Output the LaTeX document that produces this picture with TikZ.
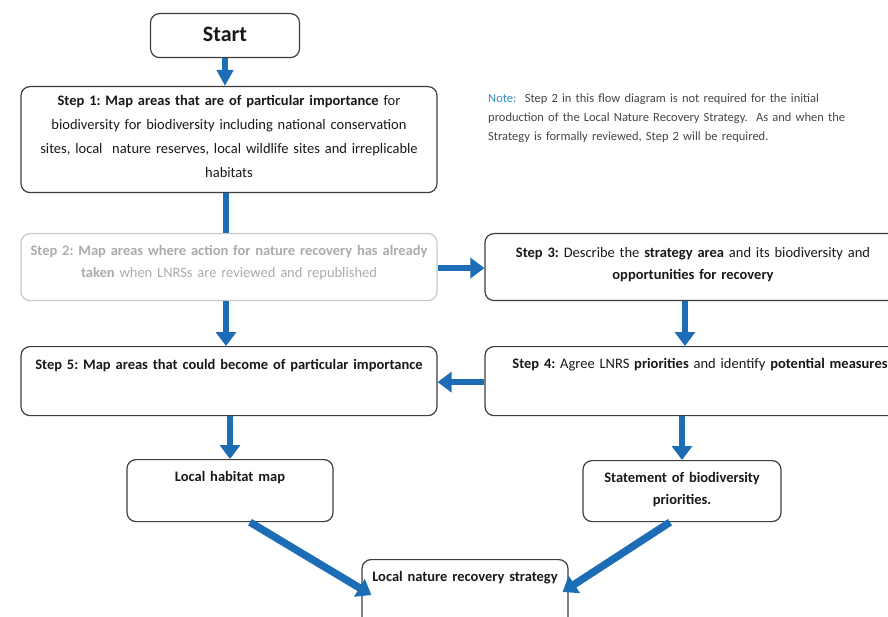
\documentclass[tikz,border=0pt]{standalone}
\usepackage{fontspec}
\setmainfont{Carlito}
\usepackage{xcolor}
\usepackage{tikz}
\usetikzlibrary{arrows.meta}
\frenchspacing
\definecolor{flowblue}{RGB}{28,108,182}
\definecolor{boxgray}{RGB}{62,62,62}
\definecolor{fadegray}{RGB}{200,200,200}
\definecolor{fadetext}{RGB}{172,172,172}
\definecolor{notecol}{RGB}{52,145,190}
\definecolor{notetext}{RGB}{70,70,70}
\tikzstyle{block} = [rectangle, draw=boxgray, line width=1.2pt, rounded corners=9pt, fill=white, anchor=north, align=center, inner xsep=4pt, inner ysep=0pt, text=black!90, font=\fontsize{14.5}{22}\selectfont]
\tikzstyle{faded} = [block, draw=fadegray, text=fadetext]
\tikzstyle{flow} = [draw=flowblue, line width=6.5pt, -{Triangle[width=20pt,length=14pt]}]
\tikzstyle{plain} = [draw=flowblue, line width=6.5pt]

\begin{document}
\begin{tikzpicture}[x=1pt,y=-1pt]
\useasboundingbox (0,0) rectangle (888,617);
\clip (0,0) rectangle (888,617);
\fill [white] (0,0) rectangle (888,617);

\node [block, text width=141pt, text height=28pt, text depth=16pt, font=\fontsize{22}{26}\selectfont\bfseries] (start) at (225,13) {Start};
\node [block, text width=408pt, text height=19pt, text depth=87pt, font=\fontsize{14.5}{24}\selectfont] (step1) at (229,86) {\textbf{Step 1: Map areas that are of particular importance} for\\ biodiversity for biodiversity including national conservation\\ sites, local\ \ nature reserves, local wildlife sites and irreplicable\\ habitats};
\node [faded, text width=408pt, text height=22pt, text depth=45pt] (step2) at (229,233) {\textbf{Step 2: Map areas where action for nature recovery has already}\\ \textbf{taken} when LNRSs are reviewed and republished};
\node [block, text width=408pt, text height=24pt, text depth=43pt] (step3) at (693,233) {\textbf{Step 3:} Describe the \textbf{strategy area} and its biodiversity and\\ \textbf{opportunities for recovery}};
\node [block, text width=422pt, text height=22pt, text depth=47pt] (step4) at (700,346) {\textbf{Step 4:} Agree LNRS \textbf{priorities} and identify \textbf{potential measures}};
\node [block, text width=408pt, text height=23pt, text depth=46pt] (step5) at (229,346) {\textbf{Step 5: Map areas that could become of particular importance}};
\node [block, text width=198pt, text height=22pt, text depth=40pt] (habitat) at (230,459) {\textbf{Local habitat map}};
\node [block, text width=190pt, text height=22pt, text depth=39pt] (statement) at (682,460) {\textbf{Statement of biodiversity}\\ \textbf{priorities.}};
\node [block, text width=198pt, text height=22pt, text depth=50pt] (lnrs) at (465,559) {\textbf{Local nature recovery strategy}};

\node [anchor=base west, inner sep=0pt, text width=390pt, align=left, text=notetext, font=\fontsize{12.5}{19}\selectfont] (note) at (488,103) {{\color{notecol}Note:}\ \ Step 2 in this flow diagram is not required for the initial\\ production of the Local Nature Recovery Strategy.\ \ As and when the\\ Strategy is formally reviewed, Step 2 will be required.};

\path [flow, -{Triangle[width=16pt,length=16pt]}] (start.south) -- (start.south |- step1.north);
\path [plain] ([xshift=-3pt]step1.south) -- ([xshift=-3pt]step2.north);
\path [flow] ([xshift=-3pt]step2.south) -- ([xshift=-3pt]step5.north);
\path [flow] ([yshift=-1pt]step2.east) -- ([yshift=-1pt]step3.west);
\path [flow] ([xshift=-8pt]step3.south) -- ([xshift=-8pt]step3.south |- step4.north);
\path [flow] ([yshift=-1pt]step4.west) -- ([yshift=-1pt]step5.east);
\path [flow] (habitat.north |- step5.south) -- (habitat.north);
\path [flow] (statement.north |- step4.south) -- (statement.north);
\path [flow, line width=7.5pt] ([xshift=20pt]habitat.south) -- ([xshift=10pt,yshift=-36pt]lnrs.north west);
\path [flow, line width=7.5pt] ([xshift=-12pt]statement.south) -- ([xshift=-6pt,yshift=-33pt]lnrs.north east);
\end{tikzpicture}
\end{document}
